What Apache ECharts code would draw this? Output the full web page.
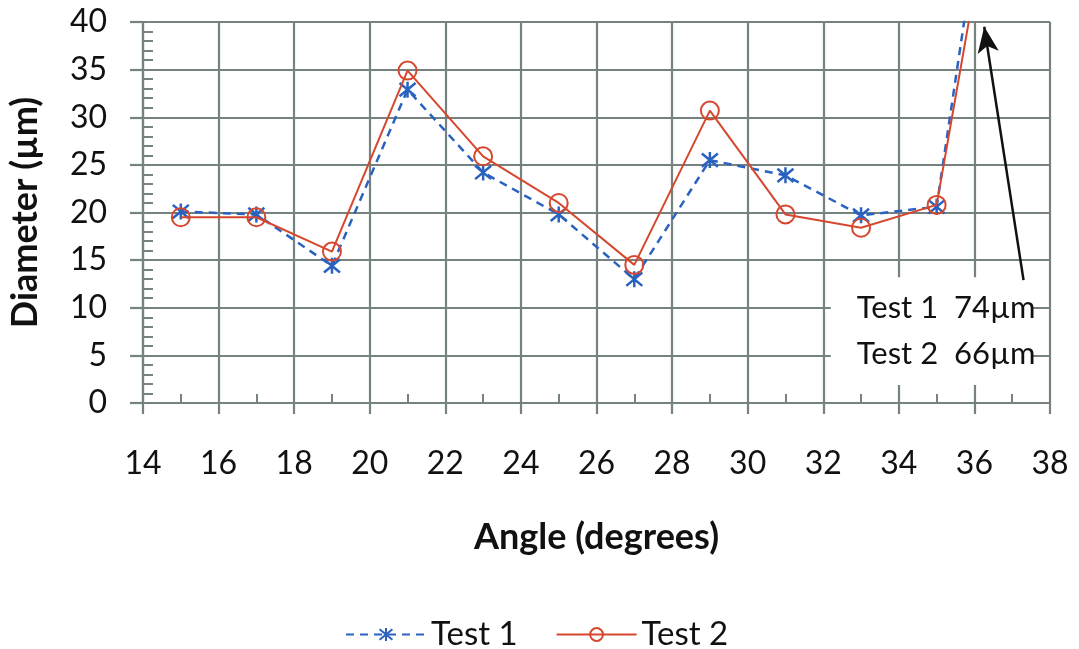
<!DOCTYPE html>
<html>
<head>
<meta charset="utf-8">
<script src="https://cdn.jsdelivr.net/npm/echarts@6/dist/echarts.min.js"></script>
<style>html,body{margin:0;padding:0;background:#fff}#c{width:1079px;height:649px}</style>
</head>
<body>
<div id="c"></div>
<script>
const angles = [15, 17, 19, 21, 23, 25, 27, 29, 31, 33, 35, 37];
const test1 = [20.1, 19.8, 14.4, 32.9, 24.2, 19.8, 13.0, 25.5, 23.9, 19.7, 20.6, 74];
const test2 = [19.5, 19.5, 15.9, 34.9, 25.9, 21.0, 14.5, 30.7, 19.8, 18.4, 20.8, 66];
const seriesNames = ['Test 1', 'Test 2'];
const noteLines = ['Test 1  74µm', 'Test 2  66µm'];
const arrowFrom = [37.3, 12.9];
const arrowTo = [36.26, 39.5];
const noteBox = [[32.2, 13.2], [37.5, 1.9]];

const FONT = 'Lato';
const GRID = '#768280';
const BLUE = '#2a62c0';
const RED = '#d5482e';

const chart = echarts.init(document.getElementById('c'));
chart.setOption({
  backgroundColor: '#fff',
  animation: false,
  textStyle: { fontFamily: FONT },
  grid: { left: 143, right: 29, top: 22, bottom: 246, containLabel: false, outerBoundsMode: 'none' },
  legend: {
    data: seriesNames,
    left: 340, top: 613,
    itemWidth: 80, itemHeight: 16, itemGap: 38,
    textStyle: { fontFamily: FONT, fontSize: 33, color: '#111' }
  },
  xAxis: [{
    type: 'value', min: 14, max: 38, interval: 2,
    name: 'Angle (degrees)', nameLocation: 'middle', nameGap: 116,
    nameTextStyle: { fontFamily: FONT, fontWeight: 'bold', fontSize: 36, color: '#111' },
    axisLine: { show: true, onZero: false, lineStyle: { color: GRID, width: 2.2 } },
    axisTick: { show: true, inside: false, length: 11, lineStyle: { color: GRID, width: 2.2 } },
    axisLabel: { fontFamily: FONT, fontSize: 32, color: '#111', margin: 45 },
    splitLine: { show: true, lineStyle: { color: GRID, width: 2.2 } }
  }, {
    type: 'value', min: 14, max: 38, interval: 1, position: 'bottom',
    axisLine: { show: false },
    axisTick: { show: true, inside: true, length: 9, lineStyle: { color: GRID, width: 2 } },
    axisLabel: { show: false },
    splitLine: { show: false }
  }],
  yAxis: [{
    type: 'value', min: 0, max: 40, interval: 5,
    name: 'Diameter (µm)', nameLocation: 'middle', nameGap: 100,
    nameTextStyle: { fontFamily: FONT, fontWeight: 'bold', fontSize: 36, color: '#111' },
    axisLine: { show: true, onZero: false, lineStyle: { color: GRID, width: 2.2 } },
    axisTick: { show: true, inside: false, length: 13, lineStyle: { color: GRID, width: 2.2 } },
    axisLabel: { fontFamily: FONT, fontSize: 32, color: '#111', margin: 36 },
    splitLine: { show: true, lineStyle: { color: GRID, width: 2.2 } }
  }, {
    type: 'value', min: 0, max: 40, interval: 1, position: 'left',
    axisLine: { show: false },
    axisTick: { show: true, inside: true, length: 10, lineStyle: { color: GRID, width: 2 } },
    axisLabel: { show: false },
    splitLine: { show: false }
  }],
  series: [{
    name: '',
    type: 'line',
    data: [],
    silent: true,
    markArea: {
      silent: true,
      itemStyle: { color: '#fff' },
      label: {
        show: true, position: 'insideLeft', distance: 26,
        formatter: noteLines.join('\n'),
        fontFamily: FONT, fontSize: 31, lineHeight: 46, color: '#111'
      },
      data: [[{ coord: noteBox[0] }, { coord: noteBox[1] }]]
    },
    markLine: {
      silent: true,
      symbol: ['none', 'arrow'],
      symbolSize: [16, 26],
      label: { show: false },
      lineStyle: { color: '#111', width: 2.5, type: 'solid' },
      data: [[{ coord: arrowFrom }, { coord: arrowTo }]]
    }
  }, {
    name: seriesNames[0],
    type: 'line',
    data: angles.map((a, i) => [a, test1[i]]),
    clip: true,
    symbol: 'path://M0,0L10,10M10,0L0,10M5,-1L5,11',
    symbolSize: 16,
    itemStyle: { color: 'transparent', borderColor: BLUE, borderWidth: 2.5 },
    lineStyle: { color: BLUE, width: 2.5, type: [8, 6] },
    z: 3
  }, {
    name: seriesNames[1],
    type: 'line',
    data: angles.map((a, i) => [a, test2[i]]),
    clip: true,
    symbol: 'circle',
    symbolSize: 18,
    itemStyle: { color: 'transparent', borderColor: RED, borderWidth: 2 },
    lineStyle: { color: RED, width: 2 },
    z: 4
  }]
});
</script>
</body>
</html>
